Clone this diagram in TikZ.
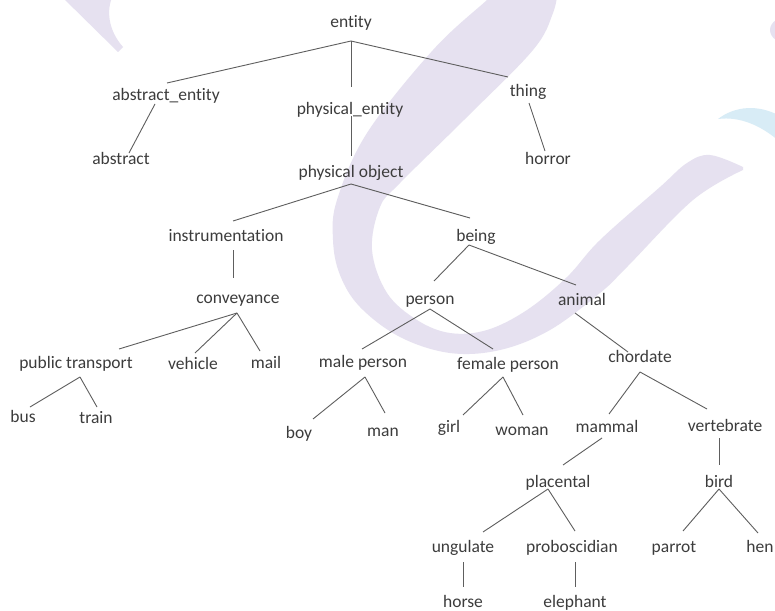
\documentclass[tikz,border=0pt]{standalone}
\usepackage{fontspec}
\setmainfont{Carlito}[Ligatures={NoCommon}]
\usetikzlibrary{calc}

\definecolor{txtgray}{HTML}{3C3C3C}
\definecolor{linegray}{HTML}{5E5E5E}
\definecolor{lavender}{HTML}{E6E1F0}
\definecolor{paleblue}{HTML}{D8ECF6}

\tikzset{
  term/.style={inner sep=0pt, text height=17pt, text depth=3pt,
    text=txtgray, font=\fontsize{17.5}{20}\selectfont},
  edge/.style={draw=linegray, line width=0.9pt},
  wash/.style={fill=lavender, draw=none},
}

% edge between two terms, each end given as an offset from the term's centre
\newcommand\tedge[4]{\draw[edge] ($(#1)+(#2)$) -- ($(#3)+(#4)$);}

\begin{document}
\begin{tikzpicture}[x=1pt,y=-1pt]
\useasboundingbox (0,0) rectangle (775,610);
\fill[white] (0,0) rectangle (775,610);

% soft background strokes
\fill[wash] (60,-5) -- (118,52) -- (123,47) .. controls (108,30) and (106,10) .. (113,-5) -- cycle;
\fill[wash] plot[smooth, tension=0.6] coordinates {(500,-12) (487,0) (433,50) (367,133) (337,200) (333,240) (340,275) (360,307) (400,337) (450,353) (500,350) (550,330) (600,293) (627,267) (693,200) (743,170)}
  -- plot[smooth, tension=0.6] coordinates {(743,167) (710,155) (687,163) (660,187) (600,240) (567,277) (527,310) (487,330) (450,333) (417,320) (387,293) (372,250) (380,207) (400,183) (467,117) (533,50) (553,13) (558,-12)}
  -- cycle;
\fill[wash] (790,30) ellipse[x radius=20, y radius=14];
\fill[paleblue] (718,119) .. controls (735,106) and (758,104) .. (780,116) -- (780,142) .. controls (762,126) and (740,116) .. (718,119) -- cycle;

% terms
\node[term] (entity)    at (351,21)  {entity};
\node[term] (ae)        at (166,93)  {abstract\_entity};
\node[term] (pe)        at (350,107) {physical\_entity};
\node[term] (thing)     at (528,89)  {thing};
\node[term] (abs)       at (121,157) {abstract};
\node[term] (po)        at (351,170) {physical object};
\node[term] (horror)    at (548,157) {horror};
\node[term] (instr)     at (226,234) {instrumentation};
\node[term] (being)     at (476,234) {being};
\node[term] (conv)      at (238,296) {conveyance};
\node[term] (person)    at (430,297) {person};
\node[term] (animal)    at (582,298) {animal};
\node[term] (pt)        at (76,361)  {public transport};
\node[term] (vehicle)   at (193,362) {vehicle};
\node[term] (mail)      at (266,361) {mail};
\node[term] (male)      at (363,360) {male person};
\node[term] (female)    at (508,362) {female person};
\node[term] (chordate)  at (640,355) {chordate};
\node[term] (bus)       at (23,415)  {bus};
\node[term] (train)     at (96,416)  {train};
\node[term] (boy)       at (299,431) {boy};
\node[term] (man)       at (383,429) {man};
\node[term] (girl)      at (449,425) {girl};
\node[term] (woman)     at (522,428) {woman};
\node[term] (mammal)    at (607,425) {mammal};
\node[term] (vert)      at (725,424) {vertebrate};
\node[term] (placental) at (558,480) {placental};
\node[term] (bird)      at (719,480) {bird};
\node[term] (ungulate)  at (463,545) {ungulate};
\node[term] (probo)     at (572,545) {proboscidian};
\node[term] (parrot)    at (674,545) {parrot};
\node[term] (hen)       at (760,545) {hen};
\node[term] (horse)     at (463,600) {horse};
\node[term] (elephant)  at (575,600) {elephant};

% hierarchy links
\tedge{entity}{0,20}{ae}{1,-10}
\tedge{entity}{0,20}{pe}{1,-20}
\tedge{entity}{0,20}{thing}{-20,-12}
\tedge{ae}{-11,11}{abs}{8,-4}
\tedge{pe}{1,9}{po}{0,-14}
\tedge{thing}{1,14}{horror}{-3,-6}
\tedge{po}{0,14}{instr}{7,-13}
\tedge{po}{0,14}{being}{-6,-16}
\tedge{instr}{7,16}{conv}{-5,-18}
\tedge{conv}{-1,17}{pt}{43,-12}
\tedge{conv}{-1,17}{vehicle}{2,-9}
\tedge{conv}{-1,17}{mail}{-6,-10}
\tedge{pt}{4,16}{bus}{7,-8}
\tedge{pt}{4,16}{train}{1,-9}
\tedge{being}{-7,11}{person}{4,-16}
\tedge{being}{-7,11}{animal}{-6,-13}
\tedge{person}{0,12}{male}{-1,-11}
\tedge{person}{0,12}{female}{-15,-13}
\tedge{animal}{-7,15}{chordate}{-12,-3}
\tedge{male}{2,17}{boy}{14,-12}
\tedge{male}{2,17}{man}{2,-16}
\tedge{female}{-5,15}{girl}{14,-10}
\tedge{female}{-5,15}{woman}{1,-13}
\tedge{chordate}{0,17}{mammal}{2,-11}
\tedge{chordate}{0,17}{vert}{-18,-15}
\tedge{mammal}{-5,13}{placental}{5,-15}
\tedge{vert}{-6,14}{bird}{0,-15}
\tedge{placental}{-10,9}{ungulate}{20,-13}
\tedge{placental}{-10,9}{probo}{3,-14}
\tedge{bird}{0,9}{parrot}{9,-14}
\tedge{bird}{0,9}{hen}{-2,-12}
\tedge{ungulate}{0,17}{horse}{0,-13}
\tedge{probo}{3,17}{elephant}{0,-13}
\end{tikzpicture}
\end{document}
